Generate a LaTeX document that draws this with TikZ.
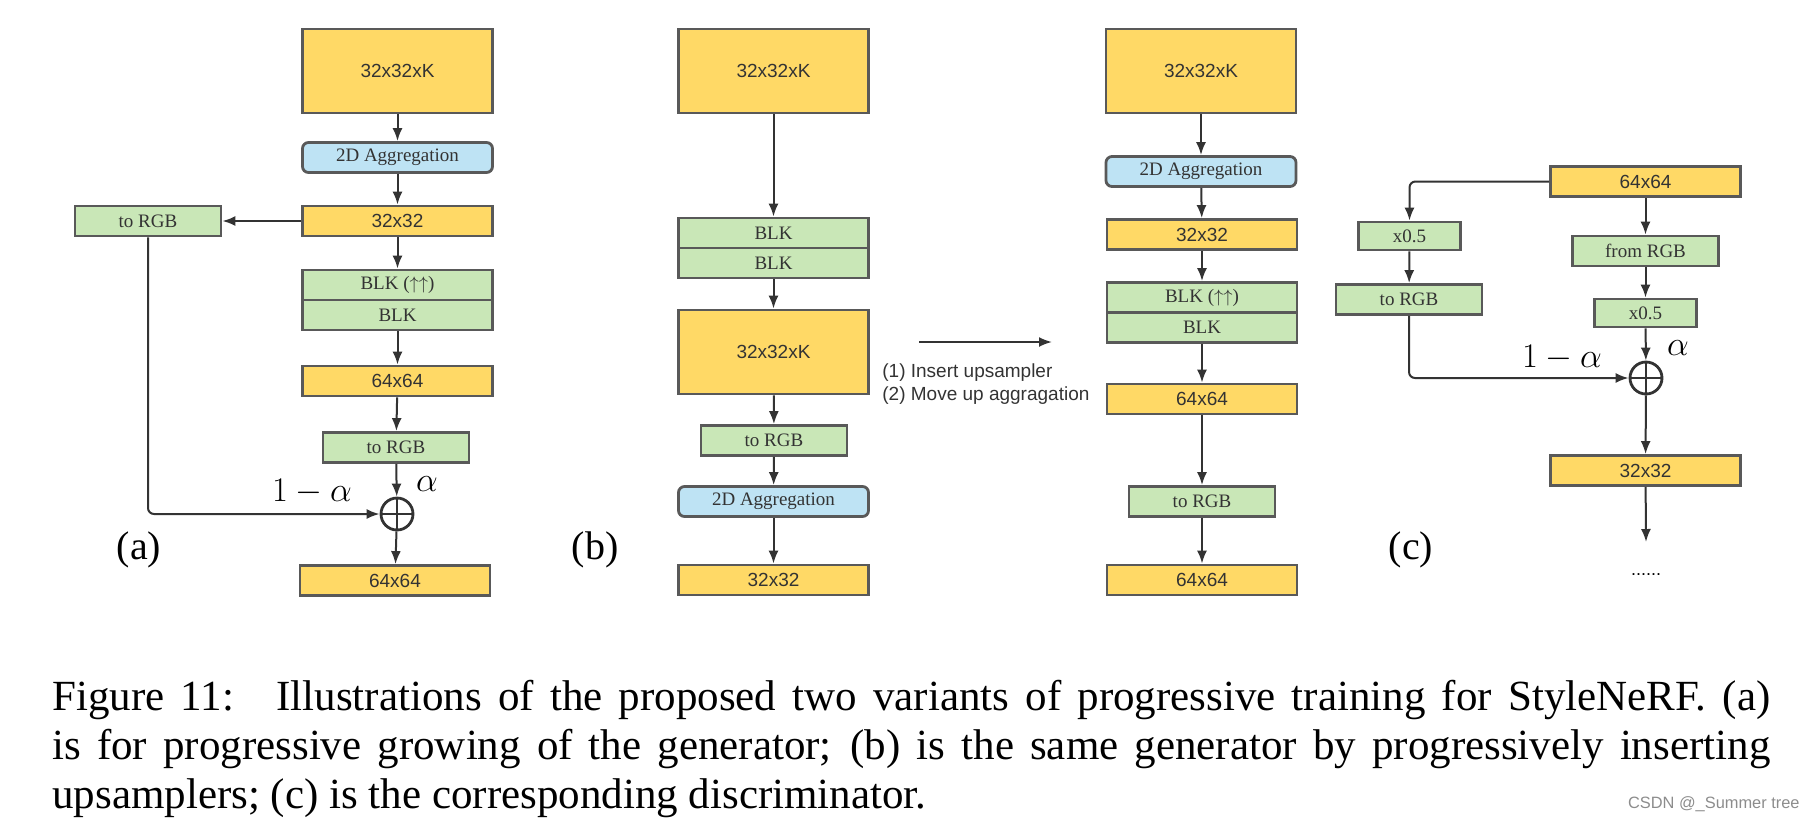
\documentclass[tikz,border=0pt]{standalone}
\usepackage{fontspec}
\setmainfont{Liberation Serif}
\setsansfont{Liberation Sans}
\usetikzlibrary{calc, positioning, arrows.meta}

\definecolor{featyellow}{RGB}{255,217,102}
\definecolor{blkgreen}{RGB}{201,231,183}
\definecolor{aggblue}{RGB}{190,227,244}
\definecolor{edgegray}{RGB}{89,89,89}
\definecolor{flowgray}{RGB}{51,51,51}

\begin{document}
\begin{tikzpicture}[
        x=0.5pt, y=-0.5pt,
        >={Latex[length=6.5pt,width=5pt]},
        font=\fontsize{9.5}{11}\selectfont,
        box/.style={
            draw=edgegray,
            line width=1.4pt,
            inner sep=0pt,
            text=black!80,
            minimum height=15pt
        },
        feat/.style={box, fill=featyellow, minimum width=95pt,
            font=\sffamily\fontsize{9.5}{11}\selectfont},
        bigfeat/.style={feat, minimum height=42pt},
        blk/.style={box, fill=blkgreen, minimum width=95pt},
        rgb/.style={box, fill=blkgreen, minimum width=73pt},
        half/.style={box, fill=blkgreen, minimum width=51pt, minimum height=14pt},
        agg/.style={box, fill=aggblue, minimum width=95pt, rounded corners=3pt},
        sum/.style={
            circle, draw=flowgray, line width=1.4pt,
            minimum size=16pt, inner sep=0pt,
            path picture={
                \draw[flowgray, line width=1.2pt]
                (path picture bounding box.north) -- (path picture bounding box.south)
                (path picture bounding box.west) -- (path picture bounding box.east);
            }
        },
        link/.style={draw=flowgray, line width=1pt},
        tag/.style={font=\fontsize{20}{24}\selectfont},
        weight/.style={font=\fontsize{16.5}{20}\selectfont}
    ]
    \useasboundingbox (0,0) rectangle (1814,826);

    % --- (a) PROGRESSIVE GROWING ---
    \node[bigfeat] (a1) at (397.5,71) {32x32xK};
    \node[agg] (a2) at (397.5,157.5) {2D Aggregation};
    \node[feat] (a3) at (397.5,221) {32x32};
    \node[rgb] (a4) at (148,221) {to RGB};
    \node[blk] (a5) at (397.5,285) {BLK ($\uparrow\uparrow$)};
    \node[blk] (a6) at (397.5,315) {BLK};
    \node[feat] (a7) at (397.5,381) {64x64};
    \node[rgb] (a8) at (396,447.5) {to RGB};
    \node[sum] (a9) at (397,514) {};
    \node[feat] (a10) at (395,580.5) {64x64};
    \node[tag] (atag) at (139,550) {(a)};
    \node[weight] (aw1) at (312,492) {$1-\alpha$};
    \node[weight] (aw2) at (427,484) {$\alpha$};

    \draw[link, ->] (a1) -- (a2);
    \draw[link, ->] (a2) -- (a3);
    \draw[link, ->] (a3) -- (a4);
    \draw[link, ->] (a3) -- (a5);
    \draw[link, ->] (a6) -- (a7);
    \draw[link, ->] (a7) -- (a8);
    \draw[link, ->] (a8) -- (a9);
    \draw[link, ->, rounded corners=3pt] (a4.south) |- (a9.west);
    \draw[link, ->] (a9) -- (a10);

    % --- (b) BEFORE ---
    \node[bigfeat] (b1) at (773.5,71) {32x32xK};
    \node[blk] (b2) at (773.5,233) {BLK};
    \node[blk] (b3) at (773.5,263) {BLK};
    \node[bigfeat] (b4) at (773.5,352) {32x32xK};
    \node[rgb] (b5) at (774,440.5) {to RGB};
    \node[agg] (b6) at (773.5,501.5) {2D Aggregation};
    \node[feat] (b7) at (773.5,580) {32x32};
    \node[tag] (btag) at (595,550) {(b)};

    \draw[link, ->] (b1) -- (b2);
    \draw[link, ->] (b3) -- (b4);
    \draw[link, ->] (b4) -- (b5);
    \draw[link, ->] (b5) -- (b6);
    \draw[link, ->] (b6) -- (b7);

    % --- (b) STEP ---
    \coordinate (stepfrom) at (919,342);
    \coordinate (stepto) at (1052,342);
    \draw[link, ->] (stepfrom) -- (stepto);
    \node[anchor=west, align=left, inner sep=0pt, text=black!80,
        font=\sffamily\fontsize{9.5}{11.5}\selectfont] (steps) at (882,384)
        {(1) Insert upsampler\\(2) Move up aggragation};

    % --- (b) AFTER ---
    \node[bigfeat] (c1) at (1201,71) {32x32xK};
    \node[agg] (c2) at (1201,171.5) {2D Aggregation};
    \node[feat] (c3) at (1202,234.5) {32x32};
    \node[blk] (c4) at (1202,297.5) {BLK ($\uparrow\uparrow$)};
    \node[blk] (c5) at (1202,327.5) {BLK};
    \node[feat] (c6) at (1202,399) {64x64};
    \node[rgb] (c7) at (1202,501.5) {to RGB};
    \node[feat] (c8) at (1202,580) {64x64};

    \draw[link, ->] (c1) -- (c2);
    \draw[link, ->] (c2) -- (c3);
    \draw[link, ->] (c3) -- (c4);
    \draw[link, ->] (c5) -- (c6);
    \draw[link, ->] (c6) -- (c7);
    \draw[link, ->] (c7) -- (c8);

    % --- (c) DISCRIMINATOR ---
    \node[feat] (d1) at (1645.5,181.5) {64x64};
    \node[half] (d2) at (1409.5,236) {x0.5};
    \node[rgb] (d3) at (1409,299.5) {to RGB};
    \node[rgb] (d4) at (1645.5,251) {from RGB};
    \node[half] (d5) at (1645.5,313) {x0.5};
    \node[sum] (d6) at (1646,378) {};
    \node[feat] (d7) at (1645.5,470.5) {32x32};
    \coordinate (dnext) at (1646,542);
    \node[font=\sffamily\fontsize{9}{10}\selectfont] (more) at (1646,575) {......};
    \node[tag] (dtag) at (1411,550) {(c)};
    \node[weight] (dw1) at (1562,358) {$1-\alpha$};
    \node[weight] (dw2) at (1678,348) {$\alpha$};

    \draw[link, ->, rounded corners=3pt] (d1.west) -| (d2.north);
    \draw[link, ->] (d2) -- (d3);
    \draw[link, ->] (d1) -- (d4);
    \draw[link, ->] (d4) -- (d5);
    \draw[link, ->] (d5) -- (d6);
    \draw[link, ->, rounded corners=3pt] (d3.south) |- (d6.west);
    \draw[link, ->] (d6) -- (d7);
    \draw[link, ->] (d7) -- (dnext);

    % --- CAPTION ---
    \node[anchor=north west, inner sep=0pt, text width=859pt, align=justify,
        font=\fontsize{21.5}{24.5}\selectfont] (caption) at (52,680)
        {Figure 11:\hspace{0.4em} Illustrations of the proposed two variants of progressive training for StyleNeRF. (a)\linebreak
        is for progressive growing of the generator; (b) is the same generator by progressively inserting\linebreak
        upsamplers; (c) is the corresponding discriminator.};
    \node[anchor=base east, inner sep=0pt, text=black!45,
        font=\sffamily\fontsize{8.2}{10}\selectfont] (mark) at (1800,808) {CSDN @\_Summer tree};

\end{tikzpicture}
\end{document}
